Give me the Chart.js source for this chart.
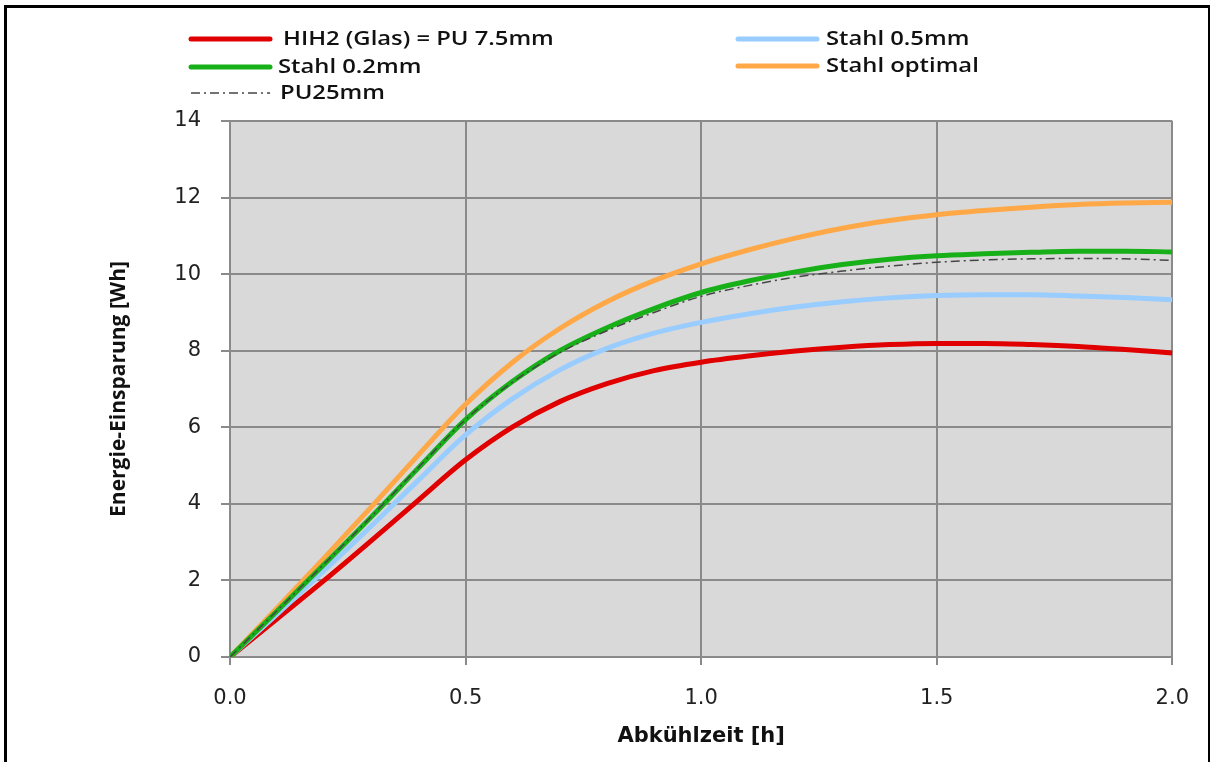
<!DOCTYPE html>
<html>
<head>
<meta charset="utf-8">
<script src="https://cdn.jsdelivr.net/npm/chart.js@4.4.1/dist/chart.umd.min.js"></script>
<style>
  html, body { margin: 0; padding: 0; background: #fff; overflow: hidden; }
  #wrap { position: relative; width: 1210px; height: 762px; }
  #frame {
    position: absolute; left: 4px; top: 5px; width: 1201px; height: 800px;
    border-top: 3px solid #000; border-left: 3px solid #000; border-right: 2px solid #000;
    pointer-events: none;
  }
  canvas { position: absolute; left: 0; top: 0; }
</style>
</head>
<body>
<div id="wrap">
  <canvas id="energie" width="1210" height="762"></canvas>
  <div id="frame"></div>
</div>
<script>
// Abkühlzeit in Stunden
const hours = [0, 0.1, 0.2, 0.3, 0.4, 0.5, 0.6, 0.7, 0.8, 0.9, 1.0, 1.1, 1.2, 1.3, 1.4, 1.5, 1.6, 1.7, 1.8, 1.9, 2.0];

// Energie-Einsparung [Wh]
const hih2Glas = [0, 1.00, 2.00, 3.04, 4.10, 5.15, 6.01, 6.67, 7.14, 7.48, 7.70, 7.86, 7.99, 8.09, 8.16, 8.19, 8.19, 8.16, 8.11, 8.03, 7.94];
const stahl05  = [0, 1.12, 2.26, 3.42, 4.62, 5.80, 6.75, 7.50, 8.06, 8.46, 8.74, 8.96, 9.14, 9.28, 9.38, 9.44, 9.46, 9.46, 9.43, 9.39, 9.33];
const stahl02  = [0, 1.20, 2.42, 3.66, 4.94, 6.20, 7.20, 8.00, 8.60, 9.10, 9.52, 9.82, 10.06, 10.25, 10.39, 10.48, 10.53, 10.57, 10.60, 10.60, 10.58];
const stahlOpt = [0, 1.28, 2.59, 3.92, 5.28, 6.60, 7.70, 8.58, 9.28, 9.83, 10.27, 10.63, 10.94, 11.20, 11.40, 11.55, 11.66, 11.75, 11.82, 11.86, 11.88];
const pu25     = [0, 1.21, 2.43, 3.67, 4.95, 6.20, 7.18, 7.95, 8.52, 9.00, 9.42, 9.70, 9.92, 10.08, 10.21, 10.31, 10.37, 10.40, 10.41, 10.40, 10.36];

const seriesNames = ['HIH2 (Glas) = PU 7.5mm', 'Stahl 0.5mm', 'Stahl 0.2mm', 'Stahl optimal', 'PU25mm'];

function toPoints(xs, ys) {
    return xs.map((x, i) => ({ x: x, y: ys[i] }));
}

// plot area background
const plotBg = {
    id: 'plotBg',
    beforeDraw(chart) {
        const { ctx, chartArea: a } = chart;
        ctx.save();
        ctx.fillStyle = '#d9d9d9';
        ctx.fillRect(a.left, a.top, a.right - a.left, a.bottom - a.top);
        ctx.restore();
    }
};

// two-column legend above the plot
const legendSlots = [
    { x: 191, y: 39, tx: 283 }, { x: 738, y: 39, tx: 826 },
    { x: 191, y: 67, tx: 278 }, { x: 738, y: 66, tx: 826 },
    { x: 191, y: 93, tx: 280 }
];
const gridLegend = {
    id: 'gridLegend',
    afterDraw(chart) {
        const ctx = chart.ctx;
        ctx.save();
        ctx.font = '600 20px "Open Sans", sans-serif';
        ctx.textBaseline = 'middle';
        chart.data.datasets.forEach((ds, i) => {
            const s = legendSlots[i];
            ctx.beginPath();
            ctx.strokeStyle = ds.borderColor;
            ctx.lineWidth = ds.borderWidth;
            ctx.lineCap = ds.borderDash ? 'butt' : 'round';
            ctx.setLineDash(ds.borderDash || []);
            ctx.moveTo(s.x, s.y);
            ctx.lineTo(s.x + 79, s.y);
            ctx.stroke();
            ctx.setLineDash([]);
            // legend text is set a little wider than the font's own width
            ctx.save();
            ctx.translate(s.tx, s.y);
            ctx.scale(1.19, 1);
            ctx.fillStyle = '#111';
            ctx.fillText(ds.label, 0, 0);
            ctx.restore();
        });
        ctx.restore();
    }
};

const ctx = document.getElementById('energie').getContext('2d');

new Chart(ctx, {
    type: 'line',
    data: {
        datasets: [
            {
                label: seriesNames[0],
                data: toPoints(hours, hih2Glas),
                borderColor: 'rgb(224, 0, 0)',
                borderWidth: 5,
                order: 4,
            }, {
                label: seriesNames[1],
                data: toPoints(hours, stahl05),
                borderColor: 'rgb(153, 204, 255)',
                borderWidth: 5,
                order: 3,
            }, {
                label: seriesNames[2],
                data: toPoints(hours, stahl02),
                borderColor: 'rgb(24, 176, 24)',
                borderWidth: 5,
                order: 1,
            }, {
                label: seriesNames[3],
                data: toPoints(hours, stahlOpt),
                borderColor: 'rgb(255, 168, 72)',
                borderWidth: 5,
                order: 2,
            }, {
                label: seriesNames[4],
                data: toPoints(hours, pu25),
                borderColor: 'rgb(70, 70, 70)',
                borderWidth: 1.5,
                borderDash: [9, 4, 2, 4],
                order: 0,
            },
        ],
    },
    options: {
        responsive: false,
        animation: false,
        devicePixelRatio: 1,
        layout: {
            padding: { top: 121, right: 34, bottom: 8, left: 100 }
        },
        elements: {
            point: { radius: 0 },
            line: { tension: 0.4, cubicInterpolationMode: 'monotone', fill: false }
        },
        scales: {
            x: {
                type: 'linear',
                min: 0,
                max: 2,
                afterFit(scale) { scale.height = 762 - 657 - 8; },
                grid: { color: '#8a8a8a', lineWidth: 2, tickLength: 8 },
                border: { color: '#8a8a8a', width: 2 },
                ticks: {
                    stepSize: 0.5,
                    padding: 21,
                    color: '#222',
                    font: { family: 'DejaVu Sans', size: 21 },
                    callback: v => v.toFixed(1)
                },
                title: {
                    display: true,
                    text: 'Abkühlzeit [h]',
                    color: '#111',
                    padding: { top: 0, bottom: 5 },
                    font: { family: 'DejaVu Sans', size: 21, weight: 'bold' }
                }
            },
            y: {
                min: 0,
                max: 14,
                afterFit(scale) { scale.width = 130; },
                grid: { color: '#8a8a8a', lineWidth: 2, tickLength: 9 },
                border: { color: '#8a8a8a', width: 2 },
                ticks: {
                    stepSize: 2,
                    padding: 20,
                    color: '#222',
                    font: { family: 'DejaVu Sans', size: 21 }
                },
                title: {
                    display: true,
                    text: 'Energie-Einsparung [Wh]',
                    color: '#111',
                    padding: { top: 6, bottom: 0 },
                    font: { family: 'Open Sans', size: 21, weight: 'bold' }
                }
            }
        },
        plugins: {
            legend: { display: false },
            tooltip: { enabled: false }
        }
    },
    plugins: [plotBg, gridLegend]
});
</script>
</body>
</html>
